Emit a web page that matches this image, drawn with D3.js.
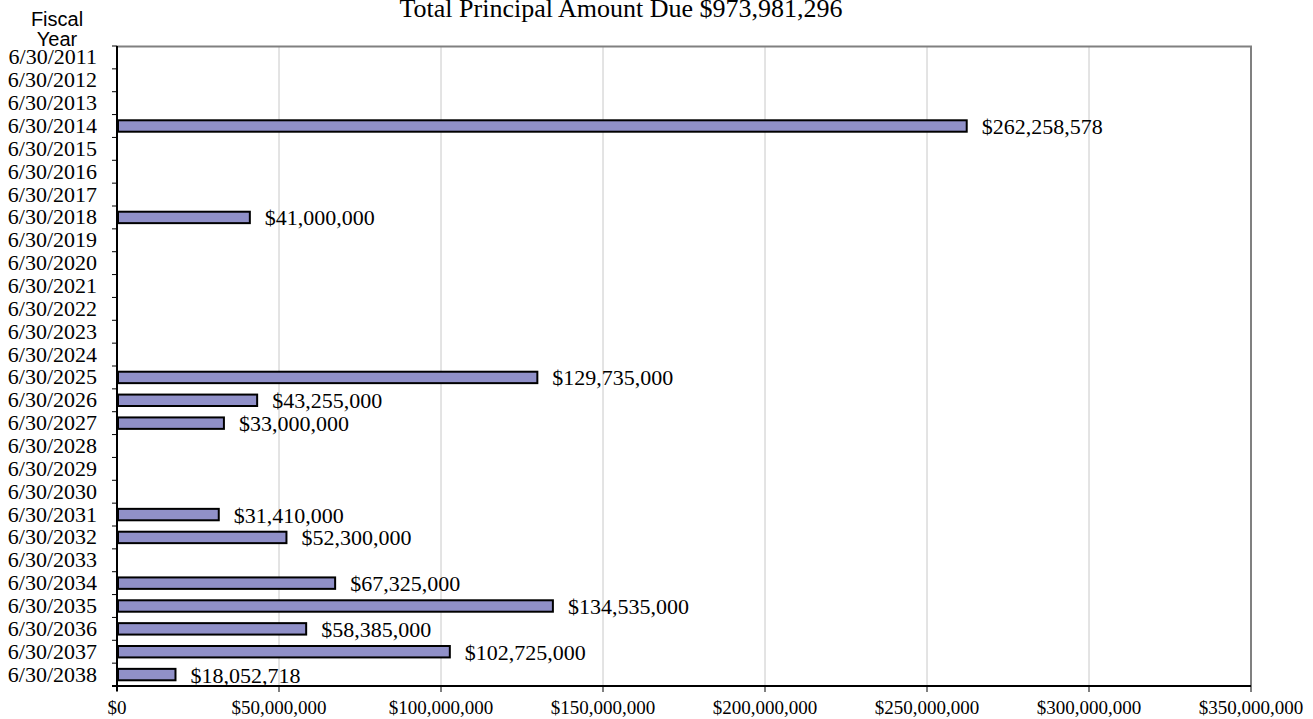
<!DOCTYPE html>
<html>
<head>
<meta charset="utf-8">
<script src="https://cdn.jsdelivr.net/npm/d3@7"></script>
<style>
  body { margin: 0; background: #fff; }
  svg { display: block; }
</style>
</head>
<body>
<script>
// data
var years = d3.range(2011, 2039).map(function(y) { return '6/30/' + y; });
var amounts = [0, 0, 0, 262258578, 0, 0, 0, 41000000, 0, 0, 0, 0, 0, 0,
    129735000, 43255000, 33000000, 0, 0, 0, 31410000, 52300000, 0,
    67325000, 134535000, 58385000, 102725000, 18052718];
var xTicks = [0, 50000000, 100000000, 150000000, 200000000, 250000000, 300000000, 350000000];
var titleText = 'Total Principal Amount Due $973,981,296';

var W = 1313, H = 719;
var margin = {top: 46, left: 117, right: 62, bottom: 33},
    width = W - margin.left - margin.right,
    height = H - margin.top - margin.bottom;

var svg = d3.select('body').append('svg')
    .attr('width', W)
    .attr('height', H);

var serif = '"Liberation Serif", "Times New Roman", serif';
var sans = '"Liberation Sans", Arial, sans-serif';

svg.append('text')
    .attr('x', 621)
    .attr('y', 17)
    .attr('text-anchor', 'middle')
    .style('font-family', serif)
    .style('font-size', '26px')
    .text(titleText);

svg.append('text')
    .attr('x', 57).attr('y', 26)
    .attr('text-anchor', 'middle')
    .style('font-family', sans)
    .style('font-size', '20px')
    .text('Fiscal');
svg.append('text')
    .attr('x', 57).attr('y', 46)
    .attr('text-anchor', 'middle')
    .style('font-family', sans)
    .style('font-size', '20px')
    .text('Year');

var g = svg.append('g')
    .attr('transform', 'translate(' + margin.left + ',' + margin.top + ')');

var x = d3.scaleLinear()
    .domain([0, 350000000])
    .range([0, width]);

var y = d3.scaleBand()
    .domain(years)
    .range([0, height])
    .paddingInner(0.5)
    .paddingOuter(0.25);

var yb = d3.scaleBand().domain(years).range([0, height]);

// gridlines
g.selectAll('line.grid')
    .data(xTicks.slice(1, -1))
    .enter().append('line')
    .attr('class', 'grid')
    .attr('x1', function(d) { return x(d); })
    .attr('x2', function(d) { return x(d); })
    .attr('y1', 0).attr('y2', height)
    .style('stroke', '#c8c8c8')
    .style('stroke-width', 1);

// top/right border
g.append('path')
    .attr('d', 'M0,0.5H' + width + 'V' + height)
    .style('fill', 'none')
    .style('stroke', '#808080')
    .style('stroke-width', 2);

var rows = years.map(function(d, i) { return {year: d, value: amounts[i]}; })
    .filter(function(d) { return d.value > 0; });

g.selectAll('rect.bar')
    .data(rows)
    .enter().append('rect')
    .attr('class', 'bar')
    .attr('x', x(0) + 1)
    .attr('y', function(d) { return y(d.year); })
    .attr('width', function(d) { return x(d.value) - x(0) - 1; })
    .attr('height', y.bandwidth())
    .style('fill', '#9090c8')
    .style('stroke', '#000')
    .style('stroke-width', 2);

var fmt = d3.format(',');
g.selectAll('text.lbl')
    .data(rows)
    .enter().append('text')
    .attr('class', 'lbl')
    .attr('x', function(d) { return x(d.value) + 15; })
    .attr('y', function(d) { return y(d.year) + y.bandwidth() / 2 + 8; })
    .style('font-family', serif)
    .style('font-size', '22px')
    .text(function(d) { return '$' + fmt(d.value); });

// y axis
var yAxis = g.append('g');
yAxis.append('line')
    .attr('x1', 0).attr('x2', 0).attr('y1', 0).attr('y2', height + 5)
    .style('stroke', '#000').style('stroke-width', 2);
yAxis.selectAll('line.tk')
    .data(years.concat(['end']))
    .enter().append('line')
    .attr('class', 'tk')
    .attr('x1', -5).attr('x2', 0)
    .attr('y1', function(d) { return d === 'end' ? height : yb(d); })
    .attr('y2', function(d) { return d === 'end' ? height : yb(d); })
    .style('stroke', '#000');
yAxis.selectAll('text')
    .data(years)
    .enter().append('text')
    .attr('x', -20)
    .attr('y', function(d) { return yb(d) + yb.bandwidth() / 2 + 7; })
    .attr('text-anchor', 'end')
    .style('font-family', serif)
    .style('font-size', '22px')
    .text(function(d) { return d; });

// x axis
var xAxis = g.append('g');
xAxis.append('line')
    .attr('x1', -5).attr('x2', width).attr('y1', height).attr('y2', height)
    .style('stroke', '#000').style('stroke-width', 2);
xAxis.selectAll('line.tk')
    .data(xTicks)
    .enter().append('line')
    .attr('class', 'tk')
    .attr('x1', function(d) { return x(d); })
    .attr('x2', function(d) { return x(d); })
    .attr('y1', height).attr('y2', height + 6)
    .style('stroke', '#000');
xAxis.selectAll('text')
    .data(xTicks)
    .enter().append('text')
    .attr('x', function(d) { return x(d); })
    .attr('y', height + 28)
    .attr('text-anchor', 'middle')
    .style('font-family', serif)
    .style('font-size', '19px')
    .text(function(d) { return '$' + fmt(d); });
</script>
</body>
</html>
